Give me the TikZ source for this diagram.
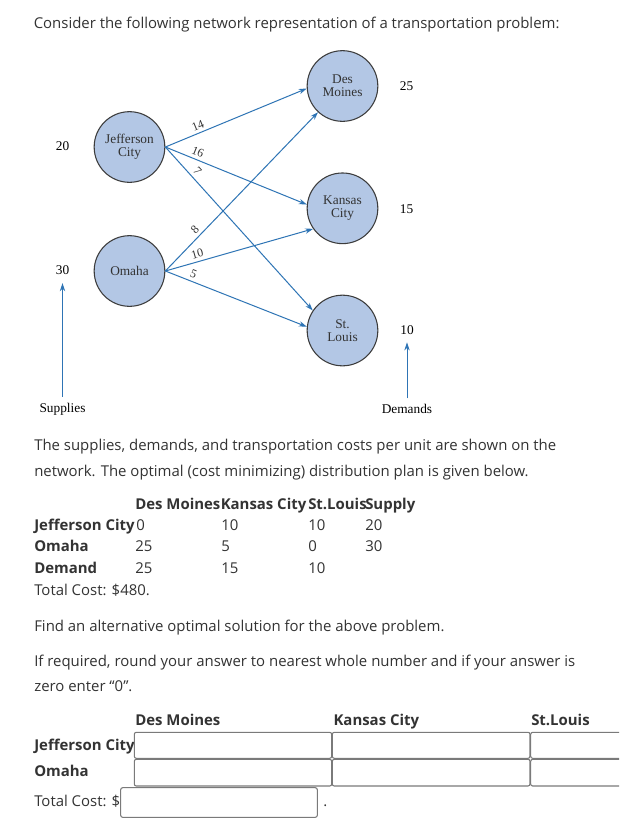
\documentclass[tikz,border=0pt]{standalone}
\usepackage{fontspec}
\setmainfont{Open Sans}
\newfontfamily\figfont{Liberation Serif}
\usetikzlibrary{arrows.meta}
\definecolor{nodeblue}{HTML}{B3C7E5}
\definecolor{rimgray}{HTML}{3C3C3C}
\definecolor{arrowblue}{HTML}{2E74B5}
\definecolor{textgray}{HTML}{333333}
\definecolor{boxgray}{HTML}{7A7A7A}

\begin{document}
\begin{tikzpicture}[x=0.75pt, y=-0.75pt, >={Stealth[length=6pt, width=4pt]},
    city/.style={circle, draw=rimgray, line width=0.8pt, fill=nodeblue, minimum size=53pt,
        inner sep=0pt, align=center, text=textgray, font=\figfont\fontsize{10}{9.5}\selectfont},
    qty/.style={text=black, font=\figfont\fontsize{10}{10}\selectfont},
    route/.style={->, line width=0.75pt, arrowblue},
    cost/.style={sloped, above=1.5pt, inner sep=0.8pt, text=textgray, font=\figfont\fontsize{9}{9}\selectfont},
    para/.style={anchor=base west, inner sep=0pt, text=textgray, font=\fontsize{11.2}{13}\selectfont},
    head/.style={para, font=\bfseries\fontsize{11.2}{13}\selectfont},
    entry/.style={draw=boxgray, line width=0.8pt, rounded corners=1.5pt}]
    \clip (0,0) rectangle (619,829);
    \fill[white] (0,0) rectangle (619,829);

    % Intro
    \node[para] (intro) at (33.5,28.5) {Consider the following network representation of a transportation problem:};

    % Sources and destinations
    \node[city] (jc) at (129.5,147) {Jefferson\\City};
    \node[city] (om) at (129.5,271) {Omaha};
    \node[city] (dm) at (342.5,86) {Des\\Moines};
    \node[city] (kc) at (342.5,208.3) {Kansas\\City};
    \node[city] (sl) at (342.5,330.5) {St.\\Louis};

    % Routes with unit costs
    \draw[route] (jc.east) -- node[cost, pos=0.25] {14} (dm.184);
    \draw[route] (jc.east) -- node[cost, pos=0.21] {16} (kc.174);
    \draw[route] (jc.east) -- node[cost, pos=0.18] {7} (sl.146);
    \draw[route] (om.east) -- node[cost, pos=0.23] {8} (dm.227);
    \draw[route] (om.east) -- node[cost, pos=0.23] {10} (kc.215);
    \draw[route] (om.east) -- node[cost, pos=0.18] {5} (sl.174);

    % Supplies and demands
    \node[qty] (s20) at (62.5,146.5) {20};
    \node[qty] (s30) at (62.5,270) {30};
    \node[qty] (d25) at (406.5,86.5) {25};
    \node[qty] (d15) at (406.5,209) {15};
    \node[qty] (d10) at (407,330.5) {10};
    \node[qty] (supplies) at (62.5,409) {Supplies};
    \node[qty] (demands) at (407,409) {Demands};
    \draw[route, shorten <=1pt, shorten >=3pt] (supplies) -- (s30);
    \draw[route, shorten <=1pt, shorten >=2pt] (demands) -- (d10);

    % Optimal plan
    \node[para] (txta) at (34,450.7) {The supplies, demands, and transportation costs per unit are shown on the};
    \node[para] (txtb) at (34,476) {network. The optimal (cost minimizing) distribution plan is given below.};

    \node[head] (hdm) at (135,509) {Des Moines};
    \node[head] (hkc) at (220.5,509) {Kansas City};
    \node[head] (hsl) at (308,509) {St.Louis};
    \node[head] (hsup) at (365,509) {Supply};

    \node[head] (rjc) at (34,530) {Jefferson City};
    \node[para] at (136,530) {0};
    \node[para] at (221,530) {10};
    \node[para] at (308,530) {10};
    \node[para] at (365,530) {20};

    \node[head] (rom) at (34,551.7) {Omaha};
    \node[para] at (135,551.7) {25};
    \node[para] at (221,551.7) {5};
    \node[para] at (308,551.7) {0};
    \node[para] at (365,551.7) {30};

    \node[head] (rdem) at (34,573.3) {Demand};
    \node[para] at (135,573.3) {25};
    \node[para] at (221,573.3) {15};
    \node[para] at (308,573.3) {10};

    \node[para] (cost) at (34,595) {Total Cost: \$480.};

    % Question
    \node[para] (ask) at (34,631.7) {Find an alternative optimal solution for the above problem.};
    \node[para] (hinta) at (34,666.7) {If required, round your answer to nearest whole number and if your answer is};
    \node[para] (hintb) at (34,691) {zero enter “0”.};

    \node[head] (qdm) at (135,725.7) {Des Moines};
    \node[head] (qkc) at (333.3,725.7) {Kansas City};
    \node[head] (qsl) at (531,725.7) {St.Louis};
    \node[head] (qjc) at (34,750) {Jefferson City};
    \node[head] (qom) at (34,776.7) {Omaha};

    % Answer boxes
    \draw[entry] (134.3,732.3) rectangle (331.7,758.3);
    \draw[entry] (332.3,732.3) rectangle (530,758.3);
    \draw[entry] (530.7,732.3) rectangle (640,758.3);
    \draw[entry] (134.3,759.3) rectangle (331.7,786);
    \draw[entry] (332.3,759.3) rectangle (530,786);
    \draw[entry] (530.7,759.3) rectangle (640,786);

    \node[para] (total) at (34,806.7) {Total Cost: \$};
    \draw[entry] (120.7,787.7) rectangle (317.3,817.3);
    \node[para] (stop) at (323,806.7) {.};
\end{tikzpicture}
\end{document}
